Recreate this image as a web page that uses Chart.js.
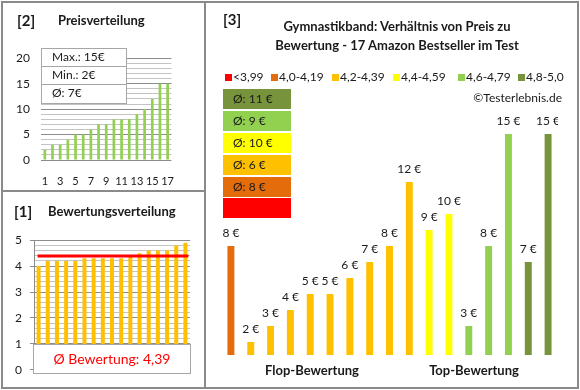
<!DOCTYPE html>
<html>
<head>
<meta charset="utf-8">
<script src="https://cdn.jsdelivr.net/npm/chart.js@4"></script>
<style>
  html, body { margin:0; padding:0; background:#fff; }
  body { width:580px; height:390px; position:relative; overflow:hidden; font-family:'Lato', 'Liberation Sans', sans-serif; color:#1a1a1a; }
  .abs { position:absolute; }
  .t { position:absolute; white-space:nowrap; }
  .b { font-weight:bold; }
  canvas { position:absolute; }
</style>
</head>
<body>
<canvas id="cPrice" width="189" height="155" style="left:0px;top:40px;"></canvas>
<canvas id="cRating" width="190" height="160" style="left:0px;top:225px;"></canvas>
<canvas id="cMain" width="337" height="253" style="left:221px;top:102px;"></canvas>

<div class="abs" style="left:1px;top:1px;width:578px;height:388px;box-sizing:border-box;border:2px solid #8a8a8a;"></div>
<div class="abs" style="left:204px;top:1px;width:2px;height:388px;background:#8a8a8a;"></div>
<div class="abs" style="left:1px;top:190px;width:204px;height:2px;background:#8a8a8a;"></div>

<div id="overlay"></div>

<script>
// ---------- DATA ----------
const rankLabels = ['1','2','3','4','5','6','7','8','9','10','11','12','13','14','15','16','17'];
const sortedPrices = [2, 3, 3, 4, 5, 5, 6, 7, 7, 8, 8, 8, 9, 10, 12, 15, 15];
const sortedRatings = [4.0, 4.2, 4.2, 4.2, 4.2, 4.3, 4.3, 4.3, 4.3, 4.3, 4.4, 4.5, 4.6, 4.6, 4.6, 4.8, 4.9];
const avgRating = 4.39;
const avgRatingText = '4,39';
const maxPrice = 15;
const minPrice = 2;
const avgPrice = 7;
// products ordered by rating (flop -> top)
const productRatings = [4.0, 4.2, 4.2, 4.2, 4.2, 4.3, 4.3, 4.3, 4.3, 4.3, 4.4, 4.5, 4.6, 4.6, 4.6, 4.8, 4.9];
const productPrices = [8, 2, 3, 4, 5, 5, 6, 7, 8, 12, 9, 10, 3, 8, 15, 7, 15];
const ratingClassLabels = ['<3,99', '4,0-4,19', '4,2-4,39', '4,4-4,59', '4,6-4,79', '4,8-5,0'];
const ratingClassLimits = [4.0, 4.2, 4.4, 4.6, 4.8];
// average price per rating class, shown from best class to worst
const classAveragePrices = [11, 9, 10, 6, 8, null];
const yPriceTicks = [0, 5, 10, 15, 20];
const yRatingTicks = [0, 1, 2, 3, 4, 5];

// ---------- STYLE ----------
const classColors = ['#FF0000', '#E46C0A', '#FFC000', '#FFFF00', '#92D050', '#77933C'];
const FONT = 'Lato';
const TXT = '#1a1a1a';
const GRID_MAJOR = '#8c8c8c';
const GRID_MINOR = '#c4c4c4';

function classOf(r) {
  let i = 0;
  while (i < ratingClassLimits.length && r >= ratingClassLimits[i] - 1e-9) i++;
  return i;
}

const ov = document.getElementById('overlay');
function addText(txt, left, cy, size, bold, extra) {
  const d = document.createElement('div');
  d.className = 't' + (bold ? ' b' : '');
  d.textContent = txt;
  d.style.left = left + 'px';
  d.style.top = (cy - size * 0.7) + 'px';
  d.style.fontSize = size + 'px';
  d.style.lineHeight = (size * 1.4) + 'px';
  if (extra) Object.assign(d.style, extra);
  ov.appendChild(d);
  return d;
}
function addBox(l, t, w, h, style) {
  const d = document.createElement('div');
  d.className = 'abs';
  Object.assign(d.style, { left: l + 'px', top: t + 'px', width: w + 'px', height: h + 'px', boxSizing: 'border-box' }, style || {});
  ov.appendChild(d);
  return d;
}

// ---------- PANEL [2] PRICE DISTRIBUTION ----------
new Chart(document.getElementById('cPrice'), {
  type: 'bar',
  data: { labels: rankLabels, datasets: [{ data: sortedPrices, backgroundColor: '#92D050', barPercentage: 0.7, categoryPercentage: 0.5 }] },
  options: {
    responsive: false, animation: false, devicePixelRatio: 1,
    layout: { padding: { top: 7, right: 0, left: 0, bottom: 0 } },
    plugins: { legend: { display: false }, tooltip: { enabled: false } },
    scales: {
      x: {
        grid: { display: false, drawTicks: false }, border: { display: false },
        ticks: { autoSkip: false, maxRotation: 0, padding: 15, color: TXT, font: { family: FONT, size: 11 },
          callback: (v, i) => (i % 2 === 0 ? rankLabels[i] : '') },
        afterFit: s => { s.height = 35; }
      },
      y: {
        min: 0, max: 20,
        ticks: { stepSize: 1, autoSkip: false, padding: 11, color: TXT, font: { family: FONT, size: 12 },
          callback: v => (yPriceTicks.includes(v) ? String(v) : '') },
        grid: { drawTicks: false, color: c => (yPriceTicks.includes(c.tick.value) ? GRID_MAJOR : GRID_MINOR) },
        border: { display: false },
        afterFit: s => { s.width = 41; }
      }
    }
  }
});
addText('[2]', 17, 20, 15, true);
addText('Preisverteilung', 58, 20, 13, true);
addBox(41, 48, 86, 56, { background: '#fff', border: '1px solid #a6a6a6' });
addBox(41, 66, 86, 1, { background: '#a6a6a6' });
addBox(41, 84, 86, 1, { background: '#a6a6a6' });
addText('Max.: ' + maxPrice + '€', 52, 57.5, 12, false);
addText('Min.: ' + minPrice + '€', 52, 75.5, 12, false);
addText('Ø: ' + avgPrice + '€', 52, 93.5, 12, false);

// ---------- PANEL [1] RATING DISTRIBUTION ----------
const isInt = v => Math.abs(v - Math.round(v)) < 1e-6;
const avgLinePlugin = {
  id: 'avgLine',
  afterDatasetsDraw(chart) {
    const meta = chart.getDatasetMeta(0);
    const y = chart.scales.y.getPixelForValue(avgRating);
    const ctx = chart.ctx;
    ctx.save();
    ctx.strokeStyle = '#FF0000';
    ctx.lineWidth = 3;
    ctx.beginPath();
    ctx.moveTo(meta.data[0].x - 1, y);
    ctx.lineTo(meta.data[meta.data.length - 1].x + 3, y);
    ctx.stroke();
    ctx.restore();
  }
};
new Chart(document.getElementById('cRating'), {
  type: 'bar',
  data: { labels: rankLabels, datasets: [{ data: sortedRatings, backgroundColor: '#FFC000', barPercentage: 0.87, categoryPercentage: 0.5 }] },
  options: {
    responsive: false, animation: false, devicePixelRatio: 1,
    layout: { padding: { top: 13, right: 0, left: 0, bottom: 13 } },
    plugins: { legend: { display: false }, tooltip: { enabled: false } },
    scales: {
      x: { display: false },
      y: {
        min: 0, max: 5,
        ticks: { stepSize: 0.2, autoSkip: false, padding: 8, color: TXT, font: { family: FONT, size: 12 },
          callback: v => (isInt(v) && yRatingTicks.includes(Math.round(v)) ? String(Math.round(v)) : '') },
        grid: { tickLength: 4, color: c => (isInt(c.tick.value) ? GRID_MAJOR : GRID_MINOR),
          tickColor: c => (isInt(c.tick.value) ? GRID_MAJOR : 'rgba(0,0,0,0)') },
        border: { display: true, color: GRID_MAJOR },
        afterFit: s => { s.width = 34; }
      }
    }
  },
  plugins: [avgLinePlugin]
});
addText('[1]', 14, 211, 15, true);
addText('Bewertungsverteilung', 48, 211, 13, true);
addBox(33, 344, 158, 30, { background: '#fff', border: '1px solid #a6a6a6' });
addText('Ø Bewertung: ' + avgRatingText, 33, 358.5, 14, false, { width: '158px', textAlign: 'center', color: '#FF0000' });

// ---------- PANEL [3] PRICE vs RATING ----------
const labelPlugin = {
  id: 'valLabels',
  afterDatasetsDraw(chart) {
    const meta = chart.getDatasetMeta(0);
    const ctx = chart.ctx;
    ctx.save();
    ctx.font = '12px ' + FONT;
    ctx.fillStyle = TXT;
    ctx.textAlign = 'center';
    ctx.textBaseline = 'middle';
    meta.data.forEach((bar, i) => {
      ctx.fillText(productPrices[i] + ' €', bar.x, bar.y - 12.5);
    });
    ctx.restore();
  }
};
new Chart(document.getElementById('cMain'), {
  type: 'bar',
  data: {
    labels: rankLabels,
    datasets: [{ data: productPrices, backgroundColor: productRatings.map(r => classColors[classOf(r)]), barPercentage: 0.7, categoryPercentage: 0.5 }]
  },
  options: {
    responsive: false, animation: false, devicePixelRatio: 1,
    layout: { padding: 0 },
    plugins: { legend: { display: false }, tooltip: { enabled: false } },
    scales: {
      x: { display: false },
      y: { display: false, min: 1.1875, max: 17 }
    }
  },
  plugins: [labelPlugin]
});
addText('[3]', 223, 19.5, 15, true);
addText('Gymnastikband: Verhältnis von Preis zu', 206, 26, 13, true, { width: '372px', textAlign: 'center', left: '211px' });
addText('Bewertung - 17 Amazon Bestseller im Test', 206, 45, 13, true, { width: '372px', textAlign: 'center', left: '211px' });

const legendX = [225, 271, 332, 393, 458, 518];
ratingClassLabels.forEach((lab, i) => {
  addBox(legendX[i], 74, 7, 7, { background: classColors[i] });
  addText(lab, legendX[i] + 8, 77.5, 12, false);
});
addText('©Testerlebnis.de', 0, 98.5, 12, false, { left: 'auto', right: (580 - 562) + 'px' });

const boxTops = [89, 111, 133, 155, 177, 198];
classAveragePrices.forEach((p, k) => {
  const cls = classColors.length - 1 - k;
  addBox(223, boxTops[k], 68, 20, { background: classColors[cls] });
  if (p !== null) addText('Ø: ' + p + ' €', 233, boxTops[k] + 10, 12, false);
});

addText('Flop-Bewertung', 212, 370, 13, true, { width: '200px', textAlign: 'center' });
addText('Top-Bewertung', 374, 370, 13, true, { width: '200px', textAlign: 'center' });
</script>
</body>
</html>
